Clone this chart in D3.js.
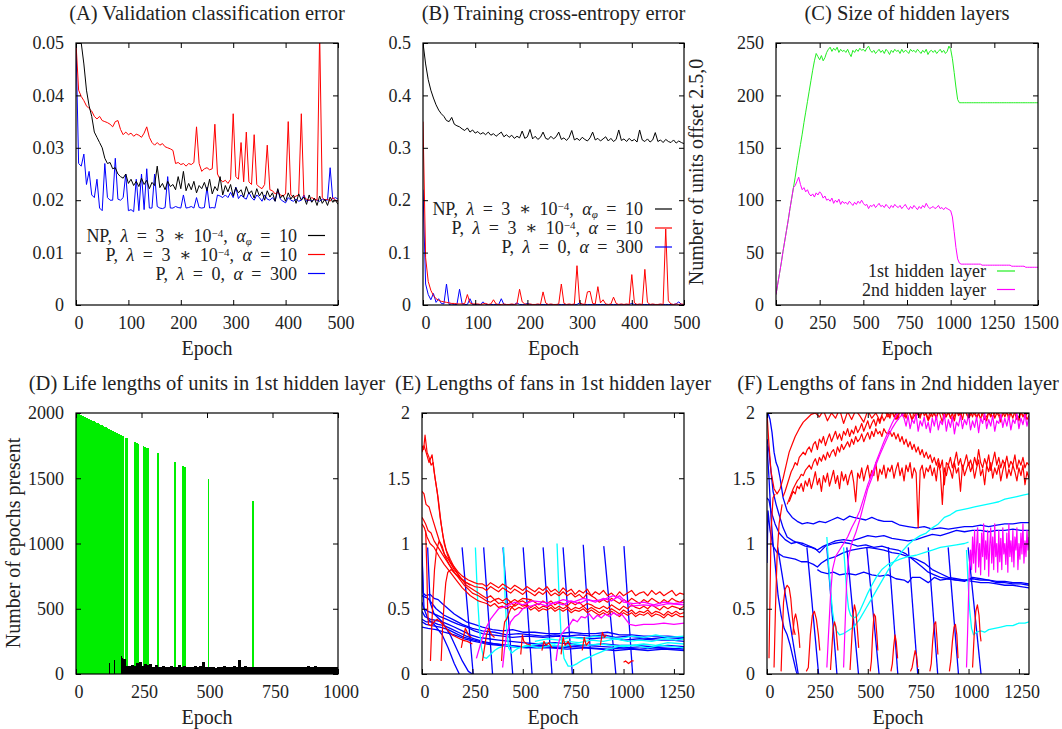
<!DOCTYPE html>
<html>
<head>
<meta charset="utf-8">
<script src="https://cdn.jsdelivr.net/npm/d3@7"></script>
<style>
  body { margin: 0; background: #fff; }
  text { font-family: "Liberation Serif", "DejaVu Serif", serif; fill: #222; }
</style>
</head>
<body>
<script>
// ---- data: (A) validation error, sampled every 5 epochs ----
const aStep = 5;
const aNP = [0.070,0.058,0.050,0.046,0.041,0.038,0.036,0.033,0.032,0.031,
  0.030,0.028,0.027,0.0272,0.026,0.0262,0.025,0.0245,0.0242,0.0250,
  0.0232,0.0240,0.0228,0.0236,0.0226,0.0242,0.0230,0.0238,0.0222,0.0234,
  0.0228,0.0265,0.0224,0.0232,0.0220,0.0236,0.0226,0.0230,0.0220,0.0245,
  0.0222,0.0255,0.0218,0.0232,0.0220,0.0236,0.0214,0.0228,0.0222,0.0234,
  0.0218,0.0240,0.0212,0.0226,0.0218,0.0245,0.0210,0.0228,0.0216,0.0230,
  0.0208,0.0224,0.0214,0.0220,0.0206,0.0226,0.0212,0.0218,0.0204,0.0222,
  0.0208,0.0216,0.0200,0.0218,0.0206,0.0214,0.0198,0.0222,0.0204,0.0210,
  0.0198,0.0214,0.0202,0.0210,0.0194,0.0212,0.0200,0.0206,0.0192,0.0210,
  0.0196,0.0204,0.0190,0.0208,0.0194,0.0202,0.0190,0.0206,0.0196,0.0200,0.0192];
const aP1 = [0.05,0.041,0.0398,0.039,0.038,0.0375,0.037,0.036,0.0355,0.036,
  0.0352,0.035,0.0348,0.0345,0.034,0.035,0.0352,0.0335,0.0325,0.033,
  0.0325,0.0328,0.0322,0.0326,0.0324,0.032,0.0328,0.034,0.032,0.031,
  0.0305,0.031,0.0305,0.0308,0.0302,0.030,0.0298,0.0295,0.027,0.0272,
  0.0268,0.027,0.0265,0.027,0.0268,0.0272,0.034,0.027,0.0255,0.026,
  0.0262,0.0258,0.026,0.0345,0.025,0.024,0.0235,0.0238,0.0232,0.024,
  0.0365,0.0245,0.024,0.031,0.0235,0.033,0.0235,0.023,0.0325,0.023,
  0.0225,0.0222,0.023,0.0305,0.022,0.0218,0.0212,0.0215,0.021,0.0208,
  0.0212,0.035,0.021,0.0205,0.0208,0.021,0.0365,0.0205,0.0202,0.02,
  0.0205,0.0202,0.02,0.052,0.0205,0.02,0.0202,0.0198,0.0205,0.02,0.0198];
const aP0 = [0.05,0.027,0.0265,0.0288,0.023,0.0255,0.021,0.0205,0.024,0.0185,
  0.018,0.027,0.0205,0.02,0.02,0.028,0.0202,0.02,0.0205,0.025,
  0.018,0.0182,0.0178,0.024,0.018,0.025,0.0182,0.026,0.0185,0.0185,
  0.025,0.0188,0.0185,0.0184,0.0186,0.0245,0.0185,0.0185,0.0188,0.0186,
  0.0185,0.021,0.0185,0.0186,0.0188,0.0185,0.0205,0.0186,0.0185,0.0186,
  0.0225,0.0185,0.0186,0.0185,0.021,0.0208,0.0205,0.021,0.0205,0.0215,
  0.0205,0.0225,0.0203,0.021,0.0205,0.0202,0.0215,0.0205,0.02,0.021,
  0.0205,0.0198,0.021,0.0202,0.02,0.0205,0.0198,0.022,0.0202,0.0198,
  0.0195,0.0205,0.02,0.0198,0.0202,0.0198,0.02,0.021,0.0198,0.02,
  0.0198,0.0202,0.02,0.0198,0.0202,0.02,0.02,0.0262,0.0202,0.0205,0.0202];

// ---- (B) training cross-entropy, every 5 epochs ----
const bStep = 5;
const bNP = [0.5,0.46,0.43,0.41,0.395,0.382,0.372,0.365,0.36,0.352,
  0.35,0.358,0.345,0.342,0.34,0.336,0.333,0.338,0.33,0.334,
  0.328,0.331,0.326,0.329,0.325,0.33,0.324,0.327,0.322,0.326,
  0.33,0.321,0.325,0.32,0.324,0.318,0.322,0.319,0.332,0.318,
  0.321,0.335,0.317,0.322,0.316,0.32,0.33,0.318,0.316,0.322,
  0.317,0.321,0.33,0.316,0.319,0.314,0.32,0.333,0.315,0.318,
  0.314,0.32,0.316,0.313,0.319,0.33,0.315,0.318,0.313,0.317,
  0.321,0.313,0.318,0.312,0.316,0.334,0.314,0.317,0.312,0.318,
  0.313,0.316,0.311,0.334,0.315,0.312,0.317,0.311,0.315,0.329,
  0.312,0.315,0.31,0.316,0.312,0.31,0.315,0.309,0.313,0.31,0.308];
const bP1 = [0.35,0.09,0.045,0.028,0.018,0.012,0.009,0.007,0.006,0.005,
  0.004,0.003,0.003,0.002,0.002,0.002,0.003,0.02,0.004,0.002,
  0.002,0.002,0.001,0.002,0.003,0.001,0.002,0.01,0.002,0.001,
  0.001,0.002,0.001,0.001,0.002,0.001,0.002,0.03,0.006,0.002,
  0.001,0.002,0.001,0.001,0.002,0.001,0.025,0.004,0.001,0.002,
  0.001,0.001,0.002,0.04,0.003,0.001,0.002,0.001,0.002,0.075,
  0.004,0.002,0.001,0.025,0.026,0.003,0.002,0.035,0.004,0.01,
  0.002,0.001,0.002,0.015,0.003,0.001,0.002,0.001,0.002,0.001,
  0.058,0.004,0.001,0.002,0.001,0.068,0.005,0.001,0.002,0.001,
  0.001,0.002,0.001,0.145,0.008,0.002,0.001,0.002,0.001,0.002,0.001];
const bP0 = [0.22,0.04,0.02,0.01,0.022,0.005,0.012,0.003,0.002,0.04,
  0.001,0.002,0.001,0.001,0.03,0.002,0.001,0.001,0.012,0.001,
  0.001,0.001,0.001,0.006,0.001,0.001,0.001,0.001,0.001,0.001,
  0.012,0.001,0.001,0.001,0.001,0.001,0.004,0.001,0.001,0.001,
  0.003,0.001,0.001,0.001,0.001,0.001,0.001,0.001,0.001,0.001,
  0.001,0.001,0.001,0.001,0.001,0.001,0.001,0.001,0.001,0.001,
  0.004,0.001,0.001,0.001,0.001,0.001,0.001,0.001,0.001,0.001,
  0.001,0.001,0.001,0.001,0.001,0.001,0.001,0.001,0.001,0.001,
  0.003,0.001,0.001,0.001,0.001,0.001,0.001,0.001,0.001,0.001,
  0.001,0.001,0.001,0.001,0.001,0.001,0.001,0.002,0.006,0.001,0.001];

// ---- (C) size of hidden layers, every 10 epochs ----
const cStep = 10;
const cLayer1 = [10,20,30,40,51,61,71,81,92,102,
  112,122,133,143,153,163,174,184,194,204,
  214,224,233,240,237,234,238,233,236,241,
  244,246,242,245,243,246,241,244,242,243,
  241,244,240,237,243,241,244,242,245,243,
  244,242,245,247,243,241,243,240,242,244,
  241,243,240,244,242,239,243,241,244,242,
  243,240,244,241,243,242,240,244,242,243,
  241,244,242,240,243,241,244,239,242,243,
  241,243,240,242,244,241,243,240,242,247,
  244,235,222,208,196,193,193,193,193,193,
  193,193,193,193,193,193,193,193,193,193,
  193,193,193,193,193,193,193,193,193,193,
  193,193,193,193,193,193,193,193,193,193,
  193,193,193,193,193,193,193,193,193,193,193];
const cLayer2 = [10,20,30,40,51,61,71,81,92,102,
  112,114,118,122,115,110,112,108,110,106,
  104,106,103,107,105,108,106,102,104,100,
  101,99,102,97,100,98,101,96,99,97,
  98,96,99,97,95,98,96,99,97,100,
  97,95,96,92,95,94,96,93,95,97,
  94,95,93,96,94,92,95,93,96,94,
  93,95,92,94,96,93,91,94,92,95,
  93,91,94,92,95,93,97,94,92,93,
  94,92,93,95,92,93,91,93,92,91,
  90,84,70,55,44,40,39,39,39,39,
  39,39,39,39,39,39,39,39,38,38,
  38,38,38,38,38,38,38,38,38,38,
  38,38,38,38,38,37,37,37,37,37,
  37,37,37,36,36,36,36,36,36,36,36];

// ---- (D) life lengths: green = alive at end, black = died ----
const dBlockStep = 5;
const dGreenBlock = [2000,1995,1990,1985,1980,1975,1970,1965,1960,1955,
  1950,1945,1940,1935,1930,1925,1920,1915,1910,1905,
  1900,1895,1890,1885,1880,1875,1870,1865,1860,1855,
  1850,1845,1840,1835,1830,1825];
const dGreenBars = [[188,1812],[192,1808],[221,1779],[224,1776],[227,1773],[233,1767],
  [236,1764],[254,1746],[256,1744],[260,1740],[263,1737],[266,1734],[269,1731],
  [272,1728],[275,1725],[310,1690],[375,1625],[406,1594],[413,1587],[502,1498],[673,1327]];
const dBinStart = 180, dBinStep = 10;
const dBlackBins = [115,65,58,72,60,85,92,62,80,70,
  75,55,66,52,54,58,50,56,62,52,
  55,70,52,58,50,56,54,60,50,58,
  90,52,55,50,56,48,54,52,58,50,
  56,52,60,54,105,55,58,50,54,52,
  56,50,54,52,55,50,53,51,55,50,
  52,50,54,51,50,53,50,52,55,51,
  58,52,55,60,53,50,54,52,50,53,
  51,52];
const dBlackSpikes = [[125,85],[145,105],[172,140],[176,120]];

// ---- (E) fan lengths, 1st hidden layer: [epoch, length] ----
const eBlue = [
  [[0,1.0],[5,0.62],[20,0.6],[40,0.61],[60,0.58],[80,0.57],[100,0.54],[130,0.5],[160,0.46],[190,0.43],[220,0.4],[260,0.38],[300,0.36],[350,0.34],[400,0.33],[450,0.34],[500,0.32],[560,0.32],[620,0.31],[680,0.31],[740,0.32],[800,0.31],[860,0.31],[920,0.32],[980,0.3],[1040,0.3],[1100,0.29],[1160,0.29],[1220,0.29],[1300,0.28]],
  [[0,0.6],[30,0.58],[70,0.5],[110,0.45],[150,0.42],[200,0.38],[250,0.35],[300,0.33],[360,0.32],[420,0.3],[480,0.31],[540,0.3],[600,0.29],[660,0.3],[720,0.29],[780,0.3],[840,0.29],[900,0.3],[960,0.28],[1020,0.29],[1080,0.28],[1140,0.27],[1200,0.28],[1300,0.27]],
  [[0,0.55],[10,0.5],[30,0.48],[60,0.46],[90,0.44],[120,0.42],[150,0.4],[180,0.38],[220,0.36],[260,0.33],[300,0.31],[350,0.3],[400,0.29],[450,0.28],[520,0.29],[600,0.28],[680,0.29],[760,0.28],[840,0.27],[920,0.28],[1000,0.26],[1080,0.27],[1160,0.26],[1240,0.26],[1300,0.25]],
  [[0,0.48],[15,0.44],[40,0.42],[70,0.41],[100,0.4],[130,0.38],[160,0.36],[200,0.33],[240,0.3],[280,0.28],[330,0.27],[380,0.26],[440,0.25],[500,0.24],[580,0.23],[660,0.24],[740,0.23],[820,0.22],[900,0.23],[980,0.22],[1060,0.22],[1140,0.21],[1220,0.22],[1300,0.21]],
  [[0,0.42],[20,0.4],[50,0.4],[80,0.38],[110,0.37],[140,0.35],[180,0.32],[220,0.29],[260,0.27],[300,0.25],[360,0.23],[420,0.22],[480,0.21],[560,0.2],[640,0.2],[720,0.19],[800,0.2],[880,0.19],[960,0.18],[1040,0.19],[1120,0.18],[1200,0.19],[1300,0.18]],
  [[0,0.4],[20,0.38],[50,0.37],[90,0.36],[130,0.34],[170,0.31],[210,0.28],[260,0.26],[310,0.24],[370,0.23],[430,0.22],[500,0.21],[600,0.22],[700,0.21],[800,0.22],[900,0.21],[1000,0.2],[1100,0.21],[1200,0.2],[1300,0.19]],
  [[0,0.36],[30,0.35],[70,0.34],[110,0.32],[160,0.3],[210,0.27],[260,0.25],[320,0.23],[380,0.22],[440,0.21],[520,0.2],[600,0.21],[680,0.2],[760,0.21],[840,0.2],[920,0.19],[1000,0.2],[1080,0.19],[1160,0.2],[1240,0.19],[1300,0.2]],
  [[0,0.9],[10,0.5],[30,0.42],[60,0.38],[100,0.3],[130,0.2],[160,0.08],[185,0]],
  [[28,0.97],[40,0.55],[60,0.46],[100,0.4],[140,0.3],[170,0.2],[200,0.1],[230,0.02],[250,0]],
  [[199,0.97],[254,0]], [[306,0.97],[350,0]], [[402,0.97],[450,0]], [[502,0.97],[546,0]],
  [[601,0.97],[645,0]], [[700,0.97],[746,0]], [[800,0.99],[843,0]], [[902,0.98],[962,0]],
  [[1002,0.98],[1045,0]]
];
// long-lived red fans: early part as points, later part every 20 epochs from 300
const eRedHeads = [
  [[0,1.75],[8,1.72],[15,1.83],[25,1.7],[35,1.66],[45,1.6],[55,1.62],[65,1.5],[80,1.35],[95,1.15],[110,1.0],[125,0.92],[140,0.86],[160,0.82],[180,0.78],[200,0.75],[230,0.72],[260,0.7],[280,0.69]],
  [[0,1.7],[10,1.75],[20,1.7],[35,1.62],[50,1.68],[60,1.55],[75,1.4],[90,1.2],[105,1.05],[120,0.95],[140,0.88],[165,0.8],[190,0.74],[220,0.7],[260,0.67],[280,0.665]],
  [[0,1.4],[10,1.38],[20,1.3],[35,1.28],[50,1.2],[70,1.1],[90,1.0],[110,0.92],[130,0.88],[160,0.8],[190,0.74],[220,0.68],[260,0.64],[280,0.62]],
  [[0,1.2],[8,1.18],[18,1.15],[30,1.1],[45,1.08],[60,1.02],[80,0.97],[100,0.92],[125,0.86],[150,0.8],[180,0.74],[210,0.68],[250,0.62],[280,0.6]],
  [[0,1.15],[12,1.12],[25,1.05],[40,1.0],[60,0.97],[85,0.9],[110,0.84],[140,0.78],[170,0.72],[200,0.66],[240,0.6],[280,0.56]]
];
const eRedTailStart = 300, eRedTailStep = 20;
const eRedTails = [
  [0.69,0.67,0.7,0.68,0.66,0.69,0.67,0.65,0.68,0.66,
   0.64,0.67,0.65,0.63,0.66,0.64,0.67,0.63,0.65,0.62,
   0.66,0.63,0.65,0.61,0.64,0.62,0.65,0.6,0.63,0.61,
   0.64,0.6,0.62,0.59,0.63,0.6,0.62,0.64,0.6,0.62,
   0.63,0.6,0.64,0.61,0.63,0.6,0.62,0.64,0.6,0.62,0.61],
  [0.66,0.64,0.67,0.65,0.63,0.66,0.64,0.62,0.65,0.63,
   0.61,0.64,0.62,0.6,0.63,0.61,0.64,0.6,0.62,0.6,
   0.63,0.6,0.62,0.59,0.61,0.58,0.62,0.6,0.58,0.55,
   0.57,0.55,0.58,0.56,0.54,0.57,0.55,0.58,0.56,0.54,
   0.57,0.55,0.58,0.56,0.54,0.57,0.55,0.58,0.56,0.55,0.57],
  [0.6,0.58,0.6,0.57,0.58,0.56,0.58,0.55,0.57,0.55,
   0.56,0.54,0.57,0.55,0.53,0.56,0.54,0.56,0.53,0.55,
   0.54,0.52,0.55,0.53,0.55,0.52,0.54,0.53,0.51,0.5,
   0.52,0.5,0.53,0.51,0.49,0.52,0.5,0.53,0.51,0.5,
   0.52,0.5,0.53,0.51,0.49,0.52,0.5,0.52,0.51,0.5,0.52],
  [0.58,0.56,0.55,0.57,0.54,0.55,0.53,0.55,0.52,0.54,
   0.52,0.53,0.51,0.53,0.5,0.52,0.51,0.53,0.5,0.52,
   0.5,0.52,0.49,0.51,0.5,0.52,0.49,0.51,0.49,0.47,
   0.49,0.47,0.5,0.48,0.46,0.49,0.47,0.49,0.46,0.48,
   0.47,0.49,0.46,0.48,0.47,0.45,0.48,0.46,0.48,0.46,0.47],
  [0.55,0.54,0.52,0.54,0.51,0.52,0.5,0.52,0.49,0.51,
   0.5,0.52,0.49,0.51,0.48,0.5,0.49,0.51,0.48,0.5,
   0.48,0.5,0.47,0.49,0.48,0.5,0.47,0.49,0.47,0.45,
   0.47,0.45,0.48,0.46,0.44,0.47,0.45,0.47,0.44,0.46,
   0.45,0.47,0.44,0.46,0.45,0.43,0.46,0.44,0.46,0.44,0.44]
];
const eRedShort = [
  [[18,1.1],[24,0.8],[28,0.5],[32,0.38],[45,0.37],[60,0.4],[75,0.42],[90,0.4],[110,0.37],[130,0.33],[150,0.3],[175,0.28],[200,0.26],[225,0.25],[250,0.23]],
  [[42,0.1],[48,0.35],[55,0.6],[62,0.8],[72,0.95],[85,1.02],[100,0.98],[115,0.9],[135,0.84],[160,0.78]],
  [[95,0.1],[102,0.35],[110,0.55],[118,0.7],[128,0.78],[145,0.8],[170,0.76],[200,0.72],[240,0.68]],
  [[195,0.2],[205,0.28],[215,0.35],[230,0.3],[245,0.28]],
  [[300,0.1],[310,0.2],[320,0.3],[330,0.35],[345,0.3],[360,0.28]],
  [[395,0.1],[402,0.3],[410,0.4],[420,0.42],[440,0.5],[470,0.55],[500,0.58],[540,0.57]],
  [[490,0.15],[498,0.3],[505,0.25],[520,0.23],[540,0.22]],
  [[595,0.18],[605,0.25],[615,0.22],[630,0.24],[645,0.2]],
  [[690,0.15],[700,0.28],[710,0.22],[725,0.25],[740,0.2]],
  [[795,0.18],[805,0.28],[815,0.22],[830,0.25]],
  [[885,0.22],[895,0.32],[905,0.28],[915,0.3]],
  [[1000,0.09],[1010,0.1],[1025,0.08],[1040,0.1],[1050,0.1]]
];
const eCyan = [
  [[265,0.97],[275,0.6],[285,0.35],[295,0.2],[305,0.13],[320,0.12],[340,0.15],[360,0.18],[380,0.2],[420,0.22],[480,0.2],[540,0.22],[600,0.24],[660,0.23],[720,0.25],[780,0.24],[840,0.26],[900,0.25],[960,0.27],[1020,0.25],[1080,0.26],[1140,0.25],[1200,0.27],[1260,0.26],[1300,0.27]],
  [[405,0.97],[412,0.6],[420,0.35],[430,0.2],[445,0.16],[460,0.18],[480,0.2],[520,0.22],[580,0.2],[640,0.22],[700,0.21],[760,0.23],[820,0.22],[880,0.23],[940,0.22],[1000,0.21],[1060,0.22],[1120,0.2],[1180,0.22],[1240,0.21],[1300,0.2]],
  [[670,1.0],[680,0.6],[690,0.3],[705,0.12],[725,0.06],[745,0.06],[770,0.08],[800,0.11],[830,0.13],[860,0.15],[890,0.17],[920,0.19],[950,0.2],[990,0.22],[1040,0.22],[1100,0.23],[1160,0.22],[1220,0.24],[1300,0.23]],
  [[560,0.25],[620,0.27],[680,0.26],[740,0.28],[800,0.27],[860,0.29],[920,0.28],[980,0.27],[1040,0.29],[1100,0.28],[1160,0.3],[1220,0.28],[1300,0.29]]
];
const eMagenta = [
  [[270,0.12],[285,0.2],[300,0.28],[320,0.36],[340,0.42],[360,0.46],[380,0.5],[420,0.52],[460,0.55],[500,0.53],[550,0.56],[600,0.55],[650,0.54],[700,0.57],[750,0.55],[800,0.58],[850,0.56],[900,0.57],[950,0.6],[980,0.58],[1000,0.55],[1050,0.54],[1100,0.55],[1150,0.53],[1200,0.55],[1250,0.54],[1300,0.55]],
  [[400,0.05],[410,0.2],[420,0.3],[440,0.4],[460,0.44],[480,0.46],[500,0.5],[540,0.52],[580,0.54],[620,0.52],[660,0.55],[700,0.53],[740,0.56],[780,0.54],[820,0.57],[860,0.55],[900,0.58],[940,0.56],[980,0.6],[1000,0.57],[1040,0.52],[1100,0.53],[1160,0.52],[1220,0.54],[1300,0.53]],
  [[665,0.1],[675,0.22],[690,0.3],[710,0.34],[730,0.37],[750,0.42],[770,0.4],[790,0.44],[810,0.43],[830,0.46],[850,0.42],[870,0.45],[890,0.43],[910,0.46],[930,0.44],[950,0.47],[970,0.45],[990,0.46],[1010,0.42],[1030,0.38],[1060,0.37],[1100,0.38],[1150,0.38],[1200,0.39],[1250,0.38],[1300,0.39]]
];

// ---- (F) fan lengths, 2nd hidden layer ----
const fNoiseStep = 10;
const fRedHead = [[0,2.0],[10,1.75],[20,1.55],[35,1.42],[50,1.38],[65,1.42],[80,1.5],[95,1.6],[110,1.7],[125,1.76],[140,1.82],[160,1.88],[180,1.93],[200,1.96],[220,1.99],[240,2.0]];
const fRedTopStart = 260, fRedTopStep = 20;
const fRedTop = [1.97,2.02,1.94,2.0,1.96,2.03,1.92,2.01,1.95,2.02,
  1.98,1.93,2.02,1.96,2.0,1.94,2.03,1.97,2.01,1.95,
  2.02,1.97,2.04,1.95,2.0,1.98,2.03,1.94,2.01,1.97,
  2.03,1.96,2.0,1.94,2.02,1.98,2.04,1.96,2.01,1.97,
  2.02,1.95,2.0,1.97,2.03,1.96,2.01,1.98,2.04,1.95,
  2.0,1.97,2.02];
const fRedHighStart = 80;
const fRedHigh = [1.36,1.4,1.45,1.5,1.55,1.58,1.62,1.6,1.66,1.68,1.7,1.68,1.72,
  1.74,1.7,1.76,1.78,1.72,1.8,1.77,1.82,1.75,1.8,1.84,1.78,1.82,1.86,1.8,1.84,1.79,1.86,1.83,1.88,
  1.82,1.87,1.84,1.9,1.85,1.88,1.92,1.86,1.9,1.94,1.88,1.92,1.95,1.9,1.96,1.92,1.98,1.94,1.97,2.0,
  1.96,2.02,1.97,2.0,1.95,2.03,1.98,2.01,1.96,2.02,1.99,1.94,2.02,1.97,2.01,1.96,2.03,1.98,2.0,1.95,
  2.02,1.97,2.01,1.95,2.03,1.98,1.93,2.01,1.97,2.02,1.96,2.0,1.94,2.02,1.98,2.01,1.95,2.03,1.99,1.96,
  2.01,1.97,2.03,1.96,2.0,1.95,2.02,1.98,1.94,2.01,1.97,2.03,1.96,2.0,1.98,1.93,2.02,1.97,2.01,1.95,
  2.0,1.96,2.02,1.98,1.94,2.01,1.97,2.0,1.95,1.98];
const fRedMidStart = 100;
const fRedMid = [1.3,1.34,1.38,1.42,1.45,1.48,1.5,1.53,1.52,1.56,1.58,
  1.6,1.57,1.62,1.65,1.6,1.66,1.63,1.68,1.64,1.7,1.66,1.7,1.72,1.67,1.74,1.7,1.76,1.72,1.75,1.78,
  1.74,1.8,1.76,1.82,1.78,1.8,1.84,1.78,1.82,1.85,1.8,1.86,1.82,1.88,1.84,1.86,1.82,1.88,1.85,1.84,
  1.86,1.82,1.85,1.8,1.84,1.78,1.82,1.76,1.8,1.74,1.78,1.72,1.76,1.7,1.74,1.68,1.72,1.66,1.7,1.65,
  1.68,1.62,1.66,1.6,1.65,1.58,1.64,1.45,1.62,1.6,1.66,1.58,1.63,1.7,1.6,1.65,1.57,1.62,1.68,1.6,
  1.64,1.58,1.66,1.6,1.72,1.62,1.58,1.65,1.6,1.68,1.56,1.63,1.7,1.6,1.66,1.58,1.64,1.6,1.67,1.58,
  1.63,1.6,1.68,1.57,1.64,1.6,1.66,1.58,1.62,1.6];
const fRedLowStart = 110;
const fRedLow = [1.32,1.36,1.4,1.38,1.44,1.42,1.46,1.4,1.48,1.44,
  1.5,1.42,1.48,1.55,1.45,1.5,1.4,1.52,1.47,1.54,1.44,1.5,1.56,1.46,1.52,1.42,1.55,1.48,1.53,1.45,
  1.52,1.56,1.47,1.32,1.54,1.5,1.58,1.48,1.55,1.6,1.5,1.56,1.52,1.62,1.48,1.57,1.53,1.6,1.5,1.58,
  1.55,1.6,1.5,1.57,1.62,1.52,1.58,1.48,1.6,1.55,1.62,1.5,1.58,1.54,1.12,1.56,1.6,1.5,1.58,1.55,
  1.6,1.52,1.58,1.48,1.62,1.55,1.3,1.58,1.52,1.6,1.56,1.5,1.62,1.54,1.58,1.4,1.6,1.52,1.57,1.62,
  1.55,1.6,1.5,1.58,1.64,1.52,1.57,1.45,1.6,1.55,1.62,1.5,1.58,1.53,1.6,1.48,1.56,1.62,1.5,1.57,
  1.52,1.6,1.55,1.48,1.58,1.52,1.6,1.45,1.55,1.5];
const fRedShort = [
  [[10,0.12],[15,0.6],[20,1.1],[30,1.35],[40,1.38]],
  [[35,0.05],[42,0.5],[50,0.9],[60,1.15],[75,1.3]],
  [[70,0.02],[76,0.3],[82,0.55],[90,0.65],[100,0.68],[110,0.66],[118,0.58],[125,0.45],[132,0.35],[140,0.3]],
  [[128,0.3],[135,0.42],[142,0.46],[150,0.4],[158,0.3],[163,0.2]],
  [[195,0.02],[205,0.05],[215,0.3],[225,0.45],[235,0.48],[245,0.42],[255,0.3],[262,0.18]],
  [[315,0.03],[322,0.2],[328,0.35],[335,0.4],[342,0.36],[348,0.25],[352,0.18]],
  [[412,0.03],[420,0.25],[427,0.45],[434,0.53],[441,0.48],[448,0.35],[455,0.2]],
  [[512,0.02],[518,0.1],[524,0.3],[531,0.46],[538,0.44],[545,0.3],[550,0.18]],
  [[615,0.02],[622,0.08],[628,0.2],[635,0.3],[641,0.25],[648,0.12]],
  [[712,0.02],[720,0.05],[728,0.12],[735,0.18],[742,0.14],[748,0.05]],
  [[808,0.02],[815,0.08],[822,0.25],[830,0.38],[837,0.4],[843,0.28],[848,0.15]],
  [[905,0.02],[912,0.1],[920,0.25],[928,0.36],[935,0.38],[942,0.3],[948,0.12]],
  [[1020,0.05],[1028,0.3],[1036,0.48],[1044,0.53],[1052,0.45],[1058,0.3],[1062,0.25]]
];
const fBlue = [
  [[5,2.0],[15,1.95],[25,1.85],[35,1.7],[45,1.62],[55,1.58],[65,1.5],[80,1.35],[100,1.25],[125,1.2],[150,1.17],[175,1.15],[200,1.16],[230,1.15],[260,1.17],[290,1.16],[320,1.18],[350,1.2],[380,1.18],[410,1.21],[430,1.2],[460,1.19],[490,1.18],[520,1.2],[550,1.18],[580,1.17],[620,1.17],[660,1.14],[700,1.13],[740,1.12],[780,1.13],[820,1.11],[860,1.12],[900,1.11],[940,1.12],[980,1.13],[1020,1.13],[1060,1.14],[1100,1.13],[1140,1.14],[1180,1.15],[1220,1.15],[1260,1.16],[1300,1.16]],
  [[0,1.8],[10,1.7],[20,1.55],[30,1.4],[45,1.3],[60,1.22],[80,1.12],[100,1.05],[130,1.02],[160,1.0],[190,0.98],[220,0.97],[250,0.95],[280,0.98],[310,1.0],[340,1.02],[380,1.03],[420,1.02],[460,1.04],[500,1.06],[540,1.05],[580,1.06],[620,1.04],[660,1.03],[700,1.02],[740,1.03],[780,1.05],[820,1.07],[860,1.06],[900,1.08],[940,1.1],[980,1.09],[1020,1.1],[1060,1.1],[1100,1.09],[1140,1.1],[1180,1.1],[1220,1.11],[1260,1.1],[1300,1.1]],
  [[0,1.35],[10,1.33],[20,1.25],[40,1.15],[60,1.08],[90,1.03],[120,1.0],[150,1.01],[180,1.0],[210,0.98],[240,0.96],[260,0.93],[290,0.98],[330,1.0],[370,1.01],[410,1.0],[450,0.98],[490,0.99],[530,0.97],[570,0.98],[610,0.96],[650,0.95],[690,0.92],[730,0.87],[770,0.82],[800,0.78],[830,0.76],[860,0.74],[900,0.73],[940,0.72],[980,0.72],[1020,0.71],[1060,0.7],[1100,0.7],[1140,0.69],[1180,0.68],[1220,0.68],[1260,0.67],[1300,0.66]],
  [[0,0.85],[5,1.25],[15,1.1],[30,0.98],[50,0.93],[80,0.9],[110,0.89],[140,0.88],[170,0.86],[200,0.86],[230,0.84],[250,0.82],[270,0.85],[300,0.88],[340,0.9],[380,0.93],[420,0.95],[460,0.96],[500,0.97],[540,0.96],[580,0.95],[620,0.93],[660,0.92],[700,0.9],[740,0.88],[780,0.85],[820,0.8],[860,0.77],[900,0.74],[940,0.73],[980,0.72],[1020,0.73],[1060,0.72],[1100,0.72],[1140,0.71],[1180,0.71],[1220,0.7],[1260,0.7],[1300,0.69]],
  [[250,0.8],[270,0.78],[300,0.77],[330,0.78],[360,0.76],[400,0.77],[440,0.76],[480,0.78],[520,0.76],[560,0.75],[600,0.76],[640,0.73],[680,0.72],[700,0.7],[720,0.74],[760,0.74],[800,0.7],[830,0.74],[860,0.72],[900,0.73],[940,0.72],[980,0.71],[1020,0.74],[1060,0.73],[1100,0.72],[1140,0.7],[1180,0.7],[1220,0.69],[1260,0.69],[1300,0.68]],
  [[0,1.75],[10,1.5],[20,1.2],[30,1.0],[40,0.85],[55,0.6],[70,0.45],[85,0.35],[100,0.3],[115,0.22],[130,0.12],[145,0.02],[150,0]],
  [[53,0.97],[155,0]], [[198,0.97],[256,0]], [[297,0.97],[347,0]], [[396,0.97],[454,0]],
  [[495,0.97],[556,0]], [[602,0.97],[649,0]], [[701,0.97],[748,0]], [[800,0.97],[847,0]],
  [[899,0.97],[950,0]], [[998,0.97],[1062,0]]
];
const fCyan = [
  [[297,1.05],[305,0.85],[315,0.65],[325,0.48],[335,0.38],[345,0.33],[360,0.3],[380,0.31],[400,0.33],[430,0.36],[460,0.42],[490,0.5],[520,0.58],[550,0.66],[580,0.74],[610,0.82],[640,0.88],[670,0.94],[700,0.99],[730,1.03],[760,1.06],[790,1.08],[820,1.12],[850,1.15],[880,1.2],[910,1.22],[940,1.25],[970,1.26],[1000,1.27],[1030,1.28],[1060,1.29],[1090,1.3],[1120,1.31],[1150,1.32],[1180,1.34],[1210,1.35],[1240,1.36],[1270,1.37],[1300,1.38]],
  [[380,0.97],[388,0.8],[396,0.62],[405,0.5],[415,0.45],[430,0.43],[445,0.44],[460,0.48],[480,0.55],[500,0.62],[520,0.68],[545,0.75],[570,0.8],[600,0.84],[630,0.86],[660,0.88],[700,0.9],[740,0.91],[780,0.93],[820,0.95],[860,0.97],[900,0.98],[940,0.99],[980,1.0],[1000,1.01]],
  [[990,0.95],[998,0.7],[1005,0.5],[1015,0.35],[1025,0.3],[1040,0.32],[1060,0.33],[1080,0.32],[1100,0.34],[1130,0.35],[1160,0.36],[1190,0.37],[1220,0.37],[1250,0.39],[1280,0.39],[1300,0.4]]
];
const fMagHead1 = [[297,0.05],[305,0.3],[315,0.6],[325,0.8],[340,0.9],[360,0.95],[380,1.0],[400,1.05],[420,1.12],[440,1.18],[460,1.25],[480,1.35],[500,1.45],[520,1.53],[540,1.62],[560,1.7],[580,1.78],[600,1.85],[620,1.92],[640,1.98],[660,2.02]];
const fMagTailStart = 680;
const fMagTail1 = [1.96,1.9,1.98,1.88,1.95,1.92,1.99,1.86,1.94,1.9,
  1.97,1.88,1.93,1.85,1.96,1.9,1.98,1.87,1.94,1.91,
  1.99,1.86,1.95,1.89,1.97,1.84,1.93,1.9,1.98,1.88,
  1.95,1.91,1.99,1.87,1.94,1.89,1.97,1.85,1.96,1.92,
  2.0,1.88,1.95,1.9,1.98,1.86,1.94,1.92,1.99,1.89,
  1.96,1.9,1.98,1.87,1.95,1.92,2.0,1.88,1.96,1.91,
  1.99,1.9,1.97];
const fMag2 = [[380,0.05],[388,0.4],[395,0.7],[405,0.9],[420,1.0],[440,1.08],[460,1.18],[480,1.3],[500,1.42],[520,1.5],[540,1.6],[560,1.68],[580,1.75],[600,1.82],[620,1.88],[640,1.93],[660,1.97],[680,2.0],[700,2.03]];
const fMagHead3 = [[990,0.05],[995,0.3],[1000,0.6],[1005,0.85],[1010,0.95]];
const fMagTail3Start = 1015, fMagTail3Step = 5;
const fMagTail3 = [0.8,1.05,0.85,1.1,0.78,0.98,1.12,0.82,1.0,0.76,1.08,0.9,1.15,0.8,1.02,0.88,1.1,0.75,0.98,1.12,
  0.85,1.05,0.8,1.15,0.9,1.0,0.78,1.1,0.86,1.04,0.8,1.12,0.92,1.0,0.84,1.08,0.78,1.15,0.9,1.02,
  0.86,1.1,0.82,1.05,0.95,1.12,0.8,1.0,0.88,1.08,0.92,1.15,0.85,1.02,0.9,1.1,0.95,1.05];

// ---- tick values ----
const aXTicks = [0,100,200,300,400,500], aYTicks = [0,0.01,0.02,0.03,0.04,0.05];
const bYTicks = [0,0.1,0.2,0.3,0.4,0.5];
const cXTicks = [0,250,500,750,1000,1250,1500], cYTicks = [0,50,100,150,200,250];
const dXTicks = [0,250,500,750,1000], dYTicks = [0,500,1000,1500,2000];
const efXTicks = [0,250,500,750,1000,1250], efYTicks = [0,0.5,1,1.5,2];

const COLORS = {black:'#000', red:'#ff0000', blue:'#0000ff', green:'#00ee00', magenta:'#ff00ff', cyan:'#00ffff'};

const svg = d3.select('body').append('svg').attr('width', 1062).attr('height', 729);

// sampled series -> [epoch, value] pairs
function sampled(start, step, values) {
  return values.map((v, i) => [start + i * step, v]);
}

function makePanel(p) {
  const x = d3.scaleLinear().domain(p.xDomain).range([p.left, p.right]);
  const y = d3.scaleLinear().domain(p.yDomain).range([p.bottom, p.top]);
  const clipId = 'clip_' + p.id;
  svg.append('clipPath').attr('id', clipId).append('rect')
    .attr('x', p.left).attr('y', p.top).attr('width', p.right - p.left).attr('height', p.bottom - p.top);
  const plot = svg.append('g').attr('clip-path', `url(#${clipId})`);
  const frame = svg.append('g');

  const clean = g => {
    g.select('.domain').remove();
    g.attr('font-family', null).attr('font-size', null);
    g.selectAll('line').attr('stroke', '#000');
    g.selectAll('text').style('font-size', '18px').attr('fill', '#222');
  };
  frame.append('g').attr('transform', `translate(0,${p.bottom})`)
    .call(d3.axisBottom(x).tickValues(p.xTicks).tickSizeInner(-5).tickSizeOuter(0).tickPadding(11).tickFormat(d => String(d)))
    .call(clean).selectAll('text').attr('dx', 2.5);
  frame.append('g').attr('transform', `translate(0,${p.top})`)
    .call(d3.axisTop(x).tickValues(p.xTicks).tickSizeInner(-5).tickSizeOuter(0).tickFormat(''))
    .call(clean);
  frame.append('g').attr('transform', `translate(${p.left},0)`)
    .call(d3.axisLeft(y).tickValues(p.yTicks).tickSizeInner(-5).tickSizeOuter(0).tickPadding(12).tickFormat(d => String(d)))
    .call(clean);
  frame.append('g').attr('transform', `translate(${p.right},0)`)
    .call(d3.axisRight(y).tickValues(p.yTicks).tickSizeInner(-5).tickSizeOuter(0).tickFormat(''))
    .call(clean);
  frame.append('rect').attr('x', p.left).attr('y', p.top)
    .attr('width', p.right - p.left).attr('height', p.bottom - p.top)
    .attr('fill', 'none').attr('stroke', '#000').attr('stroke-width', 1.2);

  const cx = (p.left + p.right) / 2;
  svg.append('text').attr('x', cx).attr('y', p.top - 23).attr('text-anchor', 'middle')
    .style('font-size', '20.5px').text(p.title);
  svg.append('text').attr('x', cx).attr('y', p.bottom + 50).attr('text-anchor', 'middle')
    .style('font-size', '20px').text('Epoch');

  const line = d3.line().x(d => x(d[0])).y(d => y(d[1]));
  function draw(series, color, width) {
    plot.append('path').datum(series).attr('d', line)
      .attr('fill', 'none').attr('stroke', color).attr('stroke-width', width || 1)
      .attr('stroke-linejoin', 'round');
  }
  return {x, y, plot, draw};
}

function legend(rows, textRight, s0, s1, yFirst, gap, spacing) {
  rows.forEach((row, i) => {
    const yc = yFirst + i * gap;
    const t = svg.append('text').attr('x', textRight).attr('y', yc + 6)
      .attr('text-anchor', 'end').style('font-size', '18px').style('word-spacing', spacing + 'px');
    let shift = 0;
    row.parts.forEach(([str, kind]) => {
      const ts = t.append('tspan').text(str);
      let target = 0;
      if (kind === 'sup') { target = -5; ts.style('font-size', '11px'); }
      if (kind === 'sub') { target = 3; ts.style('font-size', '11px').style('font-style', 'italic'); }
      if (kind === 'i') ts.style('font-style', 'italic');
      if (target !== shift) { ts.attr('dy', target - shift); shift = target; }
    });
    svg.append('line').attr('x1', s0).attr('x2', s1).attr('y1', yc).attr('y2', yc)
      .attr('stroke', row.color).attr('stroke-width', 1.2);
  });
}

const legendRows = [
  {color: COLORS.black, parts: [['NP, '], ['λ', 'i'], [' = 3 ∗ 10'], ['−4', 'sup'], [', '], ['α', 'i'], ['φ', 'sub'], [' = 10']]},
  {color: COLORS.red, parts: [['P, '], ['λ', 'i'], [' = 3 ∗ 10'], ['−4', 'sup'], [', '], ['α', 'i'], [' = 10']]},
  {color: COLORS.blue, parts: [['P, '], ['λ', 'i'], [' = 0, '], ['α', 'i'], [' = 300']]}
];

// ---- (A) ----
const pA = makePanel({id: 'a', left: 76, right: 338, top: 43, bottom: 305,
  xDomain: [0, 500], yDomain: [0, 0.05], xTicks: aXTicks, yTicks: aYTicks,
  title: '(A) Validation classification error'});
pA.draw(sampled(0, aStep, aP0), COLORS.blue);
pA.draw(sampled(0, aStep, aP1), COLORS.red);
pA.draw(sampled(0, aStep, aNP), COLORS.black);
legend(legendRows, 297, 308, 325, 235.5, 19, 4);

// ---- (B) ----
const pB = makePanel({id: 'b', left: 423, right: 684, top: 43, bottom: 305,
  xDomain: [0, 500], yDomain: [0, 0.5], xTicks: aXTicks, yTicks: bYTicks,
  title: '(B) Training cross-entropy error'});
pB.draw(sampled(0, bStep, bNP), COLORS.black);
pB.draw(sampled(0, bStep, bP0), COLORS.blue);
pB.draw(sampled(0, bStep, bP1), COLORS.red);
legend(legendRows, 643, 655, 672, 209, 19, 4);
svg.append('text').attr('transform', 'translate(703,172) rotate(-90)')
  .attr('text-anchor', 'middle').style('font-size', '20px').text('Number of units offset 2.5,0');

// ---- (C) ----
const pC = makePanel({id: 'c', left: 776, right: 1038, top: 43, bottom: 305,
  xDomain: [0, 1500], yDomain: [0, 250], xTicks: cXTicks, yTicks: cYTicks,
  title: '(C) Size of hidden layers'});
pC.draw(sampled(0, cStep, cLayer1), '#22ee22');
pC.draw(sampled(0, cStep, cLayer2), COLORS.magenta);
legend([
  {color: '#22ee22', parts: [['1st hidden layer']]},
  {color: COLORS.magenta, parts: [['2nd hidden layer']]}
], 986, 997, 1015, 271, 18.5, 1.5);

// ---- (D) ----
const pD = makePanel({id: 'd', left: 76, right: 338, top: 413, bottom: 674,
  xDomain: [0, 1000], yDomain: [0, 2000], xTicks: dXTicks, yTicks: dYTicks,
  title: '(D) Life lengths of units in 1st hidden layer'});
function bars(plot, x, y, data, w, color, pxWidth) {
  plot.append('g').attr('shape-rendering', 'crispEdges').selectAll('rect').data(data).join('rect')
    .attr('x', d => x(d[0]))
    .attr('width', d => pxWidth ? pxWidth : x(d[0] + w) - x(d[0]) + 0.4)
    .attr('y', d => y(d[1])).attr('height', d => y(0) - y(d[1]))
    .attr('fill', color);
}
bars(pD.plot, pD.x, pD.y, sampled(0, dBlockStep, dGreenBlock), dBlockStep, '#00ee00');
bars(pD.plot, pD.x, pD.y, dGreenBars, 0, '#00ee00', 1.3);
bars(pD.plot, pD.x, pD.y, sampled(dBinStart, dBinStep, dBlackBins), dBinStep, '#000');
bars(pD.plot, pD.x, pD.y, dBlackSpikes, 0, '#000', 1.3);
svg.append('text').attr('transform', 'translate(20,543) rotate(-90)')
  .attr('text-anchor', 'middle').style('font-size', '20px').text('Number of epochs present');

// ---- (E) ----
const pE = makePanel({id: 'e', left: 422, right: 684, top: 413, bottom: 674,
  xDomain: [0, 1300], yDomain: [0, 2], xTicks: efXTicks, yTicks: efYTicks,
  title: '(E) Lengths of fans in 1st hidden layer'});
eBlue.forEach(s => pE.draw(s, COLORS.blue, 1.3));
eCyan.forEach(s => pE.draw(s, COLORS.cyan, 1.3));
eRedHeads.forEach((h, i) => pE.draw(h.concat(sampled(eRedTailStart, eRedTailStep, eRedTails[i])), COLORS.red, 1.2));
eRedShort.forEach(s => pE.draw(s, COLORS.red, 1.2));
eMagenta.forEach(s => pE.draw(s, COLORS.magenta, 1.3));

// ---- (F) ----
const pF = makePanel({id: 'f', left: 767, right: 1029, top: 413, bottom: 674,
  xDomain: [0, 1300], yDomain: [0, 2], xTicks: efXTicks, yTicks: efYTicks,
  title: '(F) Lengths of fans in 2nd hidden layer'});
fBlue.forEach(s => pF.draw(s, COLORS.blue, 1.3));
fCyan.forEach(s => pF.draw(s, COLORS.cyan, 1.3));
pF.draw(fRedHead.concat(sampled(fRedTopStart, fRedTopStep, fRedTop)), COLORS.red, 1.2);
pF.draw(sampled(fRedHighStart, fNoiseStep, fRedHigh), COLORS.red, 1.2);
pF.draw(sampled(fRedMidStart, fNoiseStep, fRedMid), COLORS.red, 1.2);
pF.draw(sampled(fRedLowStart, fNoiseStep, fRedLow), COLORS.red, 1.2);
fRedShort.forEach(s => pF.draw(s, COLORS.red, 1.2));
pF.draw(fMagHead1.concat(sampled(fMagTailStart, fNoiseStep, fMagTail1)), COLORS.magenta, 1.2);
pF.draw(fMag2, COLORS.magenta, 1.2);
pF.draw(fMagHead3.concat(sampled(fMagTail3Start, fMagTail3Step, fMagTail3)), COLORS.magenta, 1.2);
</script>
</body>
</html>
